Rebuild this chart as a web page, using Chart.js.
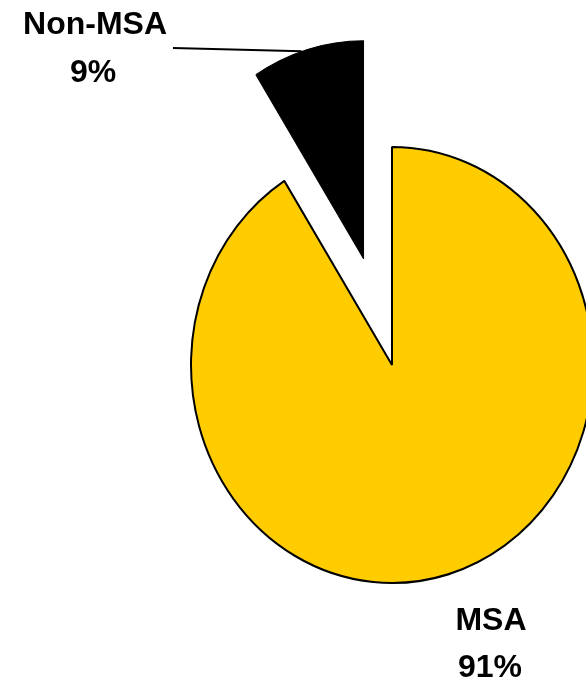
<!DOCTYPE html>
<html lang="en">
<head>
<meta charset="UTF-8">
<title>MSA pie</title>
<script src="https://cdn.jsdelivr.net/npm/chart.js@4"></script>
<style>
  body, html { margin: 0; padding: 0; background: #fff; }
  #chart { display: block; }
</style>
</head>
<body>
<canvas id="chart" width="586" height="680"></canvas>
<script>
const labels = ['MSA', 'Non-MSA'];
const values = [91, 9];
const colors = ['#FFCC00', '#000000'];
const explode = [0, 102];   // px pulled out along the slice's middle angle

const pieRadius = 201;
const stretchY = 218 / 201;  // the original pie is a bit taller than wide
const labelFont = 'bold 32px "Liberation Sans", Arial, sans-serif';

// pull a slice outwards without growing it (v4's own offset also enlarges the arc)
const explodePlugin = {
  id: 'explode',
  beforeDatasetsDraw(chart) {
    const arcs = chart.getDatasetMeta(0).data;
    arcs.forEach((arc, i) => {
      if (!explode[i] || arc._patched) return;
      const origDraw = arc.draw;
      arc.draw = function (ctx) {
        const mid = (this.startAngle + this.endAngle) / 2;
        ctx.save();
        ctx.translate(Math.cos(mid) * explode[i], Math.sin(mid) * explode[i]);
        origDraw.call(this, ctx);
        ctx.restore();
      };
      arc._patched = true;
    });
    const a = arcs[0];
    const ctx = chart.ctx;
    ctx.save();
    ctx.translate(a.x, a.y);
    ctx.scale(1, stretchY);
    ctx.translate(-a.x, -a.y);
  },
  afterDatasetsDraw(chart) {
    chart.ctx.restore();
  }
};

const labelPlugin = {
  id: 'sliceLabels',
  afterDraw(chart) {
    const ctx = chart.ctx;
    const arcs = chart.getDatasetMeta(0).data;
    const total = values.reduce((s, v) => s + v, 0);
    const pct = values.map(v => Math.round(v / total * 100) + '%');

    // leader line from the Non-MSA label to the outer edge of its slice
    const b = arcs[1];
    const mid = (b.startAngle + b.endAngle) / 2 - 0.03;
    const ex = b.x + Math.cos(mid) * b.outerRadius + Math.cos(mid + 0.03) * explode[1];
    const ey = b.y + (Math.sin(mid) * b.outerRadius + Math.sin(mid + 0.03) * explode[1]) * stretchY;
    ctx.save();
    ctx.strokeStyle = '#000';
    ctx.lineWidth = 2;
    ctx.beginPath();
    ctx.moveTo(173, 48);
    ctx.lineTo(ex, ey);
    ctx.stroke();

    ctx.fillStyle = '#000';
    ctx.font = labelFont;
    ctx.textAlign = 'center';
    ctx.textBaseline = 'alphabetic';
    ctx.fillText(labels[1], 95, 34);
    ctx.fillText(pct[1], 93, 82);
    ctx.fillText(labels[0], 491, 630);
    ctx.fillText(pct[0], 490, 677);
    ctx.restore();
  }
};

new Chart(document.getElementById('chart'), {
  type: 'pie',
  data: {
    labels: labels,
    datasets: [{
      data: values,
      backgroundColor: colors,
      borderColor: '#000000',
      borderWidth: [2, 1],
      clip: false
    }]
  },
  options: {
    responsive: false,
    animation: false,
    events: [],
    radius: pieRadius,
    layout: { padding: { left: 198, right: 0, top: 50, bottom: 0 } },
    plugins: {
      legend: { display: false },
      tooltip: { enabled: false }
    }
  },
  plugins: [explodePlugin, labelPlugin]
});
</script>
</body>
</html>
